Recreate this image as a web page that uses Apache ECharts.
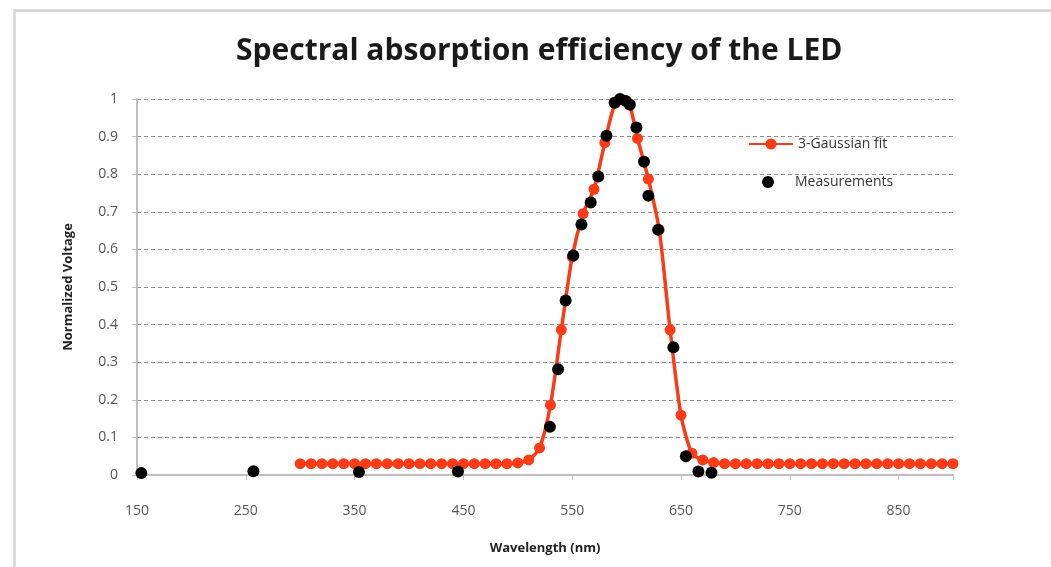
<!DOCTYPE html>
<html>
<head>
<meta charset="utf-8">
<script src="https://cdn.jsdelivr.net/npm/echarts@6/dist/echarts.min.js"></script>
<style>
html,body{margin:0;padding:0;background:#fff;}
#chart{width:1051px;height:567px;}
</style>
</head>
<body>
<div id="chart"></div>
<script>
// ---- data ----
const fitWavelength = [300,310,320,330,340,350,360,370,380,390,400,410,420,430,440,450,460,470,480,490,
  500,510,520,530,540,550,560,570,580,590,600,610,620,630,640,650,660,670,680,
  690,700,710,720,730,740,750,760,770,780,790,800,810,820,830,840,850,860,870,880,890,900];
const fitValue = [0.03,0.03,0.03,0.03,0.03,0.03,0.03,0.03,0.03,0.03,0.03,0.03,0.03,0.03,0.03,0.03,0.03,0.03,0.03,0.03,
  0.032,0.04,0.072,0.186,0.386,0.58,0.695,0.76,0.884,0.99,0.995,0.895,0.787,0.652,0.386,0.159,0.058,0.04,0.033,
  0.03,0.03,0.03,0.03,0.03,0.03,0.03,0.03,0.03,0.03,0.03,0.03,0.03,0.03,0.03,0.03,0.03,0.03,0.03,0.03,0.03,0.03];
const measWavelength = [154,257,354,445,529.5,537,544,551,558.5,567,574,581.5,589,594,599,603,609,616,620,629,643,654.5,666,678];
const measValue = [0.005,0.01,0.008,0.009,0.128,0.281,0.464,0.584,0.666,0.725,0.794,0.902,0.99,1.0,0.995,0.985,0.924,0.833,0.743,0.652,0.34,0.05,0.009,0.006];
const xTickLabels = ['150','250','350','450','550','650','750','850'];
const yTickLabels = ['0','0.1','0.2','0.3','0.4','0.5','0.6','0.7','0.8','0.9','1'];

const fitData = fitWavelength.map((x, i) => [x, fitValue[i]]);
const measData = measWavelength.map((x, i) => [x, measValue[i]]);

const RED = '#fb3a16';
const FONT = 'Open Sans';

const chart = echarts.init(document.getElementById('chart'), null, {renderer: 'canvas'});
chart.setOption({
  backgroundColor: '#ffffff',
  animation: false,
  title: {
    text: 'Spectral absorption efficiency of the LED',
    left: 236,
    top: 36,
    padding: 0,
    textStyle: {fontFamily: FONT, fontWeight: 'bold', fontSize: 30, color: '#1a1a1a'}
  },
  graphic: [{
    type: 'rect',
    left: 12, top: 8,
    shape: {width: 1100, height: 620},
    style: {fill: 'none', stroke: '#d4d4d4', lineWidth: 2.5},
    silent: true
  }],
  legend: [{
    orient: 'vertical',
    left: 748, top: 137,
    padding: 0,
    itemWidth: 44, itemHeight: 14,
    data: ['3-Gaussian fit'],
    textStyle: {fontFamily: FONT, fontSize: 14, color: '#333'}
  }, {
    orient: 'vertical',
    left: 762, top: 175,
    padding: 0,
    itemWidth: 12, itemHeight: 12,
    data: ['Measurements'],
    textStyle: {fontFamily: FONT, fontSize: 14, color: '#333', padding: [0, 0, 0, 16]}
  }],
  grid: {left: 137, right: 98, top: 99, bottom: 92, containLabel: false},
  xAxis: {
    type: 'value',
    min: 150, max: 900, interval: 100,
    name: 'Wavelength (nm)',
    nameLocation: 'middle',
    nameGap: 67,
    nameTextStyle: {fontFamily: FONT, fontWeight: 'bold', fontSize: 13, color: '#222'},
    axisLine: {show: true, onZero: false, lineStyle: {color: '#bfbfbf', width: 2}},
    axisTick: {show: true, length: 5, lineStyle: {color: '#bfbfbf'}},
    splitLine: {show: false},
    axisLabel: {
      margin: 29,
      fontFamily: FONT, fontSize: 14, color: '#555',
      formatter: v => { const i = xTickLabels.indexOf(String(v)); return i >= 0 ? xTickLabels[i] : ''; }
    }
  },
  yAxis: {
    type: 'value',
    min: 0, max: 1, interval: 0.1,
    name: 'Normalized Voltage',
    nameLocation: 'middle',
    nameGap: 62,
    nameRotate: 90,
    nameTextStyle: {fontFamily: FONT, fontWeight: 'bold', fontSize: 13, color: '#222'},
    axisLine: {show: true, lineStyle: {color: '#bfbfbf', width: 2}},
    axisTick: {show: true, length: 5, lineStyle: {color: '#bfbfbf'}},
    splitLine: {show: true, lineStyle: {color: '#8f8f8f', type: [4, 3], width: 1}},
    axisLabel: {
      margin: 19,
      fontFamily: FONT, fontSize: 14, color: '#555',
      formatter: v => yTickLabels[Math.round(v * 10)]
    }
  },
  series: [{
    name: '3-Gaussian fit',
    type: 'line',
    data: fitData,
    smooth: 0.25,
    symbol: 'circle',
    symbolSize: 11,
    itemStyle: {color: RED, opacity: 1},
    lineStyle: {color: RED, width: 3.5},
    z: 2
  }, {
    name: 'Measurements',
    type: 'scatter',
    data: measData,
    symbol: 'circle',
    symbolSize: 12,
    itemStyle: {color: '#000000', opacity: 1},
    z: 3
  }]
});
</script>
</body>
</html>
